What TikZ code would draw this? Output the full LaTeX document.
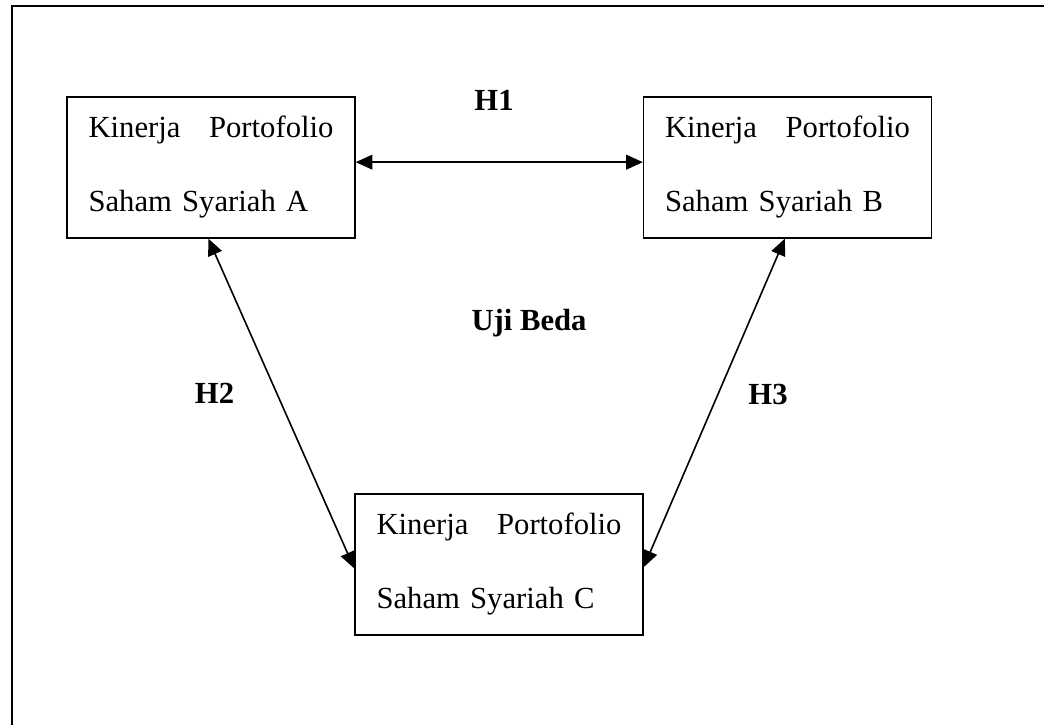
\documentclass[tikz,border=0pt]{standalone}
\usepackage{fontspec}
\setmainfont{Liberation Serif}
\usetikzlibrary{arrows.meta}

\tikzset{
  kotak/.style={draw,line width=1pt,minimum width=216pt,minimum height=105.75pt,
    text width=183.75pt,align=left,inner sep=0pt,
    font=\fontsize{23}{55.5}\selectfont},
  panah/.style={{Triangle[length=12.5pt,width=11pt]}-{Triangle[length=12.5pt,width=11pt]},line width=1.2pt},
  hipo/.style={anchor=base,font=\fontsize{23}{27}\selectfont\bfseries}
}

\begin{document}
\begin{tikzpicture}[x=0.75pt,y=-0.75pt]

\useasboundingbox (0,0) rectangle (1044,725);
\draw[line width=1.7pt] (12,725) -- (12,6) -- (1044,6);

% kotak portofolio
\node[kotak] (A) at (211,167.5) {Kinerja\hfill Portofolio\\Saham Syariah A};
\node[kotak] (B) at (787.5,167.5) {Kinerja\hfill Portofolio\\Saham Syariah B};
\node[kotak] (C) at (499,564.5) {Kinerja\hfill Portofolio\\Saham Syariah C};

% hipotesis
\draw[panah] ([yshift=4pt]A.east) -- ([yshift=4pt]B.west);
\draw[panah] ([xshift=-2pt]A.south) -- ([yshift=-3pt]C.west);
\draw[panah] ([xshift=-2pt]B.south) -- ([yshift=-2pt]C.east);

\node[hipo] (h1) at (494,110) {H1};
\node[hipo] (uji) at (529,330) {Uji Beda};
\node[hipo] (h2) at (214.5,403) {H2};
\node[hipo] (h3) at (768,404) {H3};

\end{tikzpicture}
\end{document}
